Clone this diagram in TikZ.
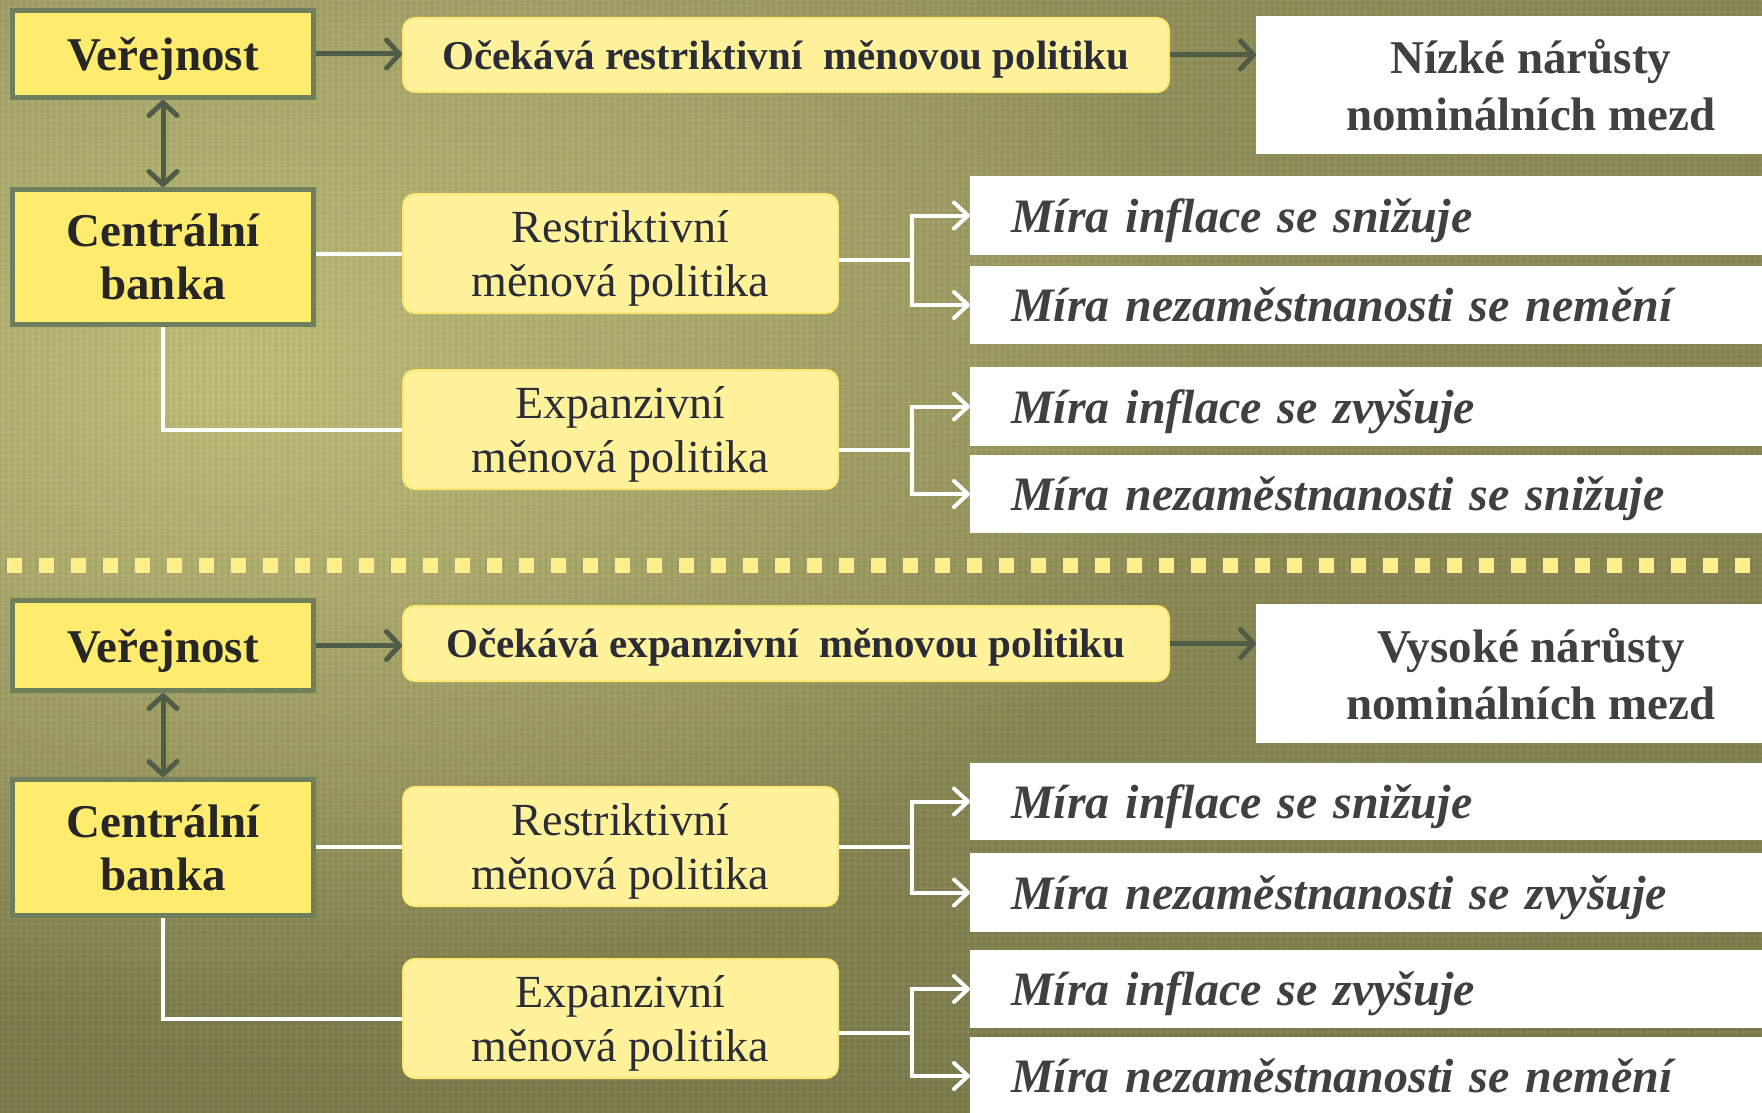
\documentclass[tikz,border=0pt]{standalone}
\usepackage{fontspec}
\setmainfont{Liberation Serif}
\usetikzlibrary{arrows.meta,fadings}
\definecolor{bgbase}{RGB}{124,123,75}
\definecolor{bgmid}{RGB}{152,150,94}
\definecolor{bghi}{RGB}{192,190,122}
\definecolor{sqfill}{RGB}{255,236,110}
\definecolor{sqline}{RGB}{111,126,92}
\definecolor{rfill}{RGB}{255,242,154}
\definecolor{rline}{RGB}{253,232,114}
\definecolor{darrow}{RGB}{79,93,71}
\definecolor{dotcol}{RGB}{255,238,140}
\definecolor{txtA}{RGB}{38,38,38}
\definecolor{txtB}{RGB}{42,45,56}
\definecolor{txtC}{RGB}{64,64,64}
\tikzfading[name=softglow, inner color=transparent!0, outer color=transparent!100]
\begin{document}
\begin{tikzpicture}[x=1pt,y=-1pt,
  sqbox/.style={draw=sqline, line width=5pt, fill=sqfill, inner sep=0pt, outer sep=2.5pt,
    minimum width=301pt, align=center, text=txtA, text depth=0pt,
    font=\fontsize{47}{53}\selectfont\bfseries},
  rbox/.style={draw=rline, line width=2pt, fill=rfill, rounded corners=12pt, inner sep=0pt,
    outer sep=1pt, align=center, text=txtB, text depth=0pt},
  obox/.style={rbox, minimum width=766pt, font=\fontsize{41}{46}\selectfont\bfseries},
  pbox/.style={rbox, minimum width=435pt, minimum height=119pt, font=\fontsize{46}{54}\selectfont},
  bigwhite/.style={fill=white, inner sep=0pt, outer sep=0pt, minimum width=550pt, align=center,
    text=txtC, text depth=0pt, font=\fontsize{47}{57}\selectfont\bfseries},
  wbox/.style={fill=white, inner xsep=41pt, inner ysep=0pt, outer sep=0pt, anchor=west,
    text width=820pt, align=left, text=txtC, text depth=0pt,
    font=\fontsize{48}{54}\selectfont\bfseries\itshape},
  darr/.style={draw=darrow, line width=5pt, -{Straight Barb[length=13pt,width=28pt,round]}},
  darr2/.style={draw=darrow, line width=5pt, {Straight Barb[length=13pt,width=28pt,round]}-{Straight Barb[length=13pt,width=28pt,round]}},
  wline/.style={draw=white, line width=4pt},
  warr/.style={-{Straight Barb[length=14pt,width=26pt,round]}}
]
\useasboundingbox (0,0) rectangle (1762,1113);
\clip (0,0) rectangle (1762,1113);
% background
\fill[bgbase] (0,0) rectangle (1762,1113);
\fill[bgmid, path fading=softglow] (700,150) ellipse [x radius=2000, y radius=1000];
\fill[bghi, path fading=softglow] (230,370) ellipse [x radius=1000, y radius=640];
% canvas texture
\foreach \gx in {0,6,...,1762} {\draw[black, opacity=0.05, line width=1.5pt] (\gx,0) -- (\gx,1113);}
\foreach \gy in {0,6,...,1113} {\draw[white, opacity=0.05, line width=1.5pt] (0,\gy) -- (1762,\gy);}

% separator
\draw[dotcol, line width=15pt, dash pattern=on 15pt off 17pt] (7,565.5) -- (1780,565.5);

% ---------- top half ----------
\node[sqbox, minimum height=87pt] (V1) at (163,54) {Veřejnost};
\node[sqbox, minimum height=135pt] (C1) at (163,257) {Centrální\\banka};
\node[obox, minimum height=74pt] (O1) at (786,55) {Očekává restriktivní\ \ měnovou politiku};
\node[bigwhite, minimum height=138pt] (N1) at (1531,85) {Nízké nárůsty\\nominálních mezd};
\node[pbox] (R1) at (620.5,253.5) {Restriktivní\\měnová politika};
\node[pbox] (E1) at (620.5,429.5) {Expanzivní\\měnová politika};
\node[wbox, minimum height=79pt] (W1) at (970,215.5) {Míra inflace se snižuje};
\node[wbox, minimum height=78pt] (W2) at (970,305) {Míra nezaměstnanosti se nemění};
\node[wbox, minimum height=79pt] (W3) at (970,406.5) {Míra inflace se zvyšuje};
\node[wbox, minimum height=78pt] (W4) at (970,494) {Míra nezaměstnanosti se snižuje};

\draw[darr] (V1.east) -- (V1.east -| O1.west);
\draw[darr] (O1.east) -- (O1.east -| N1.west);
\draw[darr2] (V1.south) -- (C1.north);
\draw[wline] (R1.west -| C1.east) -- (R1.west);
\draw[wline] (C1.south) |- (E1.west);
\coordinate (J1) at (912,260);
\coordinate (J2) at (912,450);
\draw[wline] (R1.east |- J1) -- (J1);
\draw[wline, warr] (J1) |- (W1.west);
\draw[wline, warr] (J1) |- (W2.west);
\draw[wline] (E1.east |- J2) -- (J2);
\draw[wline, warr] (J2) |- (W3.west);
\draw[wline, warr] (J2) |- (W4.west);

% ---------- bottom half ----------
\node[sqbox, minimum height=90pt] (V2) at (163,645.5) {Veřejnost};
\node[sqbox, minimum height=136pt] (C2) at (163,847.5) {Centrální\\banka};
\node[obox, minimum height=75pt] (O2) at (786,643.5) {Očekává expanzivní\ \ měnovou politiku};
\node[bigwhite, minimum height=139pt] (N2) at (1531,673.5) {Vysoké nárůsty\\nominálních mezd};
\node[pbox] (R2) at (620.5,846.5) {Restriktivní\\měnová politika};
\node[pbox] (E2) at (620.5,1018.5) {Expanzivní\\měnová politika};
\node[wbox, minimum height=77pt] (W5) at (970,801.5) {Míra inflace se snižuje};
\node[wbox, minimum height=79pt] (W6) at (970,892.5) {Míra nezaměstnanosti se zvyšuje};
\node[wbox, minimum height=78pt] (W7) at (970,989) {Míra inflace se zvyšuje};
\node[wbox, minimum height=78pt] (W8) at (970,1076) {Míra nezaměstnanosti se nemění};

\draw[darr] (V2.east) -- (V2.east -| O2.west);
\draw[darr] (O2.east) -- (O2.east -| N2.west);
\draw[darr2] (V2.south) -- (C2.north);
\draw[wline] (R2.west -| C2.east) -- (R2.west);
\draw[wline] (C2.south) |- (E2.west);
\coordinate (J3) at (912,847);
\coordinate (J4) at (912,1033);
\draw[wline] (R2.east |- J3) -- (J3);
\draw[wline, warr] (J3) |- (W5.west);
\draw[wline, warr] (J3) |- (W6.west);
\draw[wline] (E2.east |- J4) -- (J4);
\draw[wline, warr] (J4) |- (W7.west);
\draw[wline, warr] (J4) |- (W8.west);
\end{tikzpicture}
\end{document}
